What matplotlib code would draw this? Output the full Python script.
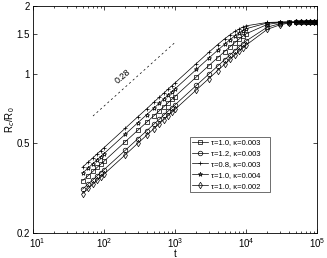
import matplotlib
matplotlib.use('Agg')
import matplotlib.pyplot as plt
import matplotlib.transforms as mtransforms
from matplotlib.ticker import FixedLocator, FixedFormatter, NullLocator, LogLocator

plt.rcParams['font.family'] = ['Liberation Sans', 'DejaVu Sans']
plt.rcParams['mathtext.fontset'] = 'custom'
plt.rcParams['mathtext.rm'] = 'Liberation Sans'

t = [50, 60, 70, 80, 90, 100,
     200, 300, 400, 500, 600, 700, 800, 900, 1000,
     2000, 3000, 4000, 5000, 6000, 7000, 8000, 9000, 10000,
     20000, 30000, 40000, 50000, 60000, 70000, 80000, 90000, 100000]

r_t10_k3 = [0.340, 0.358, 0.374, 0.389, 0.402, 0.414,
            0.505, 0.567, 0.615, 0.655, 0.690, 0.721, 0.749, 0.775, 0.798,
            0.973, 1.092, 1.183, 1.259, 1.325, 1.380, 1.428, 1.470, 1.506,
            1.658, 1.689, 1.697, 1.700, 1.700, 1.700, 1.700, 1.700, 1.700]
r_t12_k3 = [0.312, 0.329, 0.343, 0.357, 0.369, 0.380,
            0.463, 0.520, 0.564, 0.601, 0.633, 0.662, 0.688, 0.711, 0.733,
            0.893, 1.002, 1.087, 1.158, 1.219, 1.272, 1.319, 1.362, 1.400,
            1.613, 1.670, 1.686, 1.694, 1.700, 1.700, 1.700, 1.700, 1.700]
r_t08_k3 = [0.390, 0.411, 0.429, 0.446, 0.461, 0.475,
            0.579, 0.650, 0.705, 0.752, 0.792, 0.827, 0.860, 0.889, 0.916,
            1.115, 1.250, 1.352, 1.432, 1.494, 1.545, 1.582, 1.613, 1.634,
            1.692, 1.698, 1.700, 1.700, 1.700, 1.700, 1.700, 1.700, 1.700]
r_t10_k4 = [0.367, 0.387, 0.404, 0.420, 0.434, 0.447,
            0.545, 0.612, 0.664, 0.707, 0.745, 0.779, 0.809, 0.836, 0.862,
            1.050, 1.178, 1.276, 1.355, 1.422, 1.476, 1.520, 1.557, 1.586,
            1.683, 1.697, 1.700, 1.700, 1.700, 1.700, 1.700, 1.700, 1.700]
r_t10_k2 = [0.298, 0.314, 0.328, 0.341, 0.352, 0.363,
            0.442, 0.497, 0.539, 0.574, 0.605, 0.632, 0.657, 0.679, 0.700,
            0.853, 0.957, 1.039, 1.106, 1.165, 1.217, 1.262, 1.304, 1.342,
            1.577, 1.650, 1.681, 1.692, 1.700, 1.700, 1.700, 1.700, 1.700]

labels = [u'\u03c4=1.0, \u03ba=0.003', u'\u03c4=1.2, \u03ba=0.003', u'\u03c4=0.8, \u03ba=0.003',
          u'\u03c4=1.0, \u03ba=0.004', u'\u03c4=1.0, \u03ba=0.002']
markers = ['s', 'o', '+', '*', 'd']

xticks = [10, 100, 1000, 10000, 100000]
xticklabels = ['$10^{1}$', '$10^{2}$', '$10^{3}$', '$10^{4}$', '$10^{5}$']
yticks = [0.2, 0.5, 1, 1.5, 2]
yticklabels = ['0.2', '0.5', '1', '1.5', '2']

# reference slope line
slope_t = [70, 1000]
slope_r = [0.655, 1.38]

fig = plt.figure(figsize=(3.27, 2.58), dpi=100)
ax = fig.add_axes([0.101, 0.097, 0.868, 0.880])

series = [r_t10_k3, r_t12_k3, r_t08_k3, r_t10_k4, r_t10_k2]
for y, m, lab in zip(series, markers, labels):
    ax.plot(t, y, '-', color='k', lw=0.5, marker=m, ms=3.3, mfc='none', mew=0.5, label=lab)

ax.plot(slope_t, slope_r, '--', color='k', lw=0.5, dashes=(3, 4))
ax.text(185, 0.98, '0.28', fontsize=6.5, rotation=40, ha='center', va='center')

ax.set_xscale('log')
ax.set_yscale('log')
ax.set_xlim(10, 1e5)
ax.set_ylim(0.2, 2)
ax.xaxis.set_major_locator(FixedLocator(xticks))
ax.xaxis.set_major_formatter(FixedFormatter(xticklabels))
ax.xaxis.set_minor_locator(LogLocator(base=10, subs=range(2, 10)))
ax.yaxis.set_major_locator(FixedLocator(yticks))
ax.yaxis.set_major_formatter(FixedFormatter(yticklabels))
ax.yaxis.set_minor_locator(NullLocator())
ax.tick_params(which='both', direction='in', top=True, right=True, labelsize=7, width=0.5)
ax.tick_params(which='major', length=3)
ax.tick_params(axis='y', pad=2.5)
ax.tick_params(axis='x', pad=2.2)
ax.tick_params(which='minor', length=1.5)
for s in ax.spines.values():
    s.set_linewidth(0.6)

ax.set_xlabel('t', fontsize=7)
ax.xaxis.set_label_coords(0.5, -0.072)
ax.set_ylabel('R$_c$/R$_0$', fontsize=7)
ax.yaxis.set_label_coords(-0.055, 0.5)

leg = ax.legend(loc='lower left', bbox_to_anchor=(0.553, 0.181, 0.282, 0.251), mode='expand',
                fontsize=5.5, frameon=True, fancybox=False, edgecolor='k', borderpad=0.3,
                labelspacing=0.45, handlelength=2.0, handletextpad=0.4, borderaxespad=0)
leg.get_frame().set_linewidth(0.5)

# nudge the 10^1 label right so it clears "0.2"
fig.canvas.draw()
first = ax.xaxis.get_major_ticks()[0].label1
first.set_transform(first.get_transform() + mtransforms.ScaledTranslation(3 / 72, 0, fig.dpi_scale_trans))

fig.savefig('out.png', dpi=100)
